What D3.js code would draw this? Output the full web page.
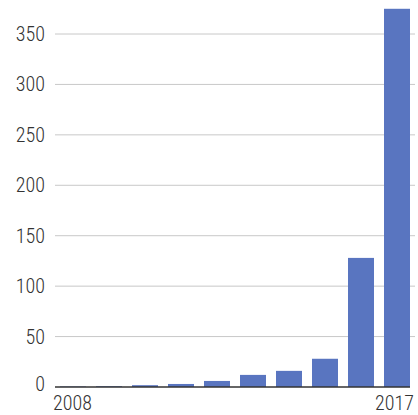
<!DOCTYPE html>
<html>
<head>
  <style type="text/css">
    body { margin: 0; background: #fff; }
    text { font-family: "Roboto Condensed", "Liberation Sans Narrow", "Roboto", sans-serif; font-stretch: condensed; font-weight: 300; fill: #333; }
  </style>
</head>
<body>
  <div id="chart"></div>
  <script src="https://cdn.jsdelivr.net/npm/d3@7"></script>
  <script type="text/javascript">
    var years = ["2008", "2009", "2010", "2011", "2012", "2013", "2014", "2015", "2016", "2017"];
    var counts = [0.5, 0.8, 1.8, 3, 6, 12, 16, 28, 128, 375];
    var yTicks = [0, 50, 100, 150, 200, 250, 300, 350];
    var xLabels = ["2008", "2017"];

    var w = 418, h = 415;
    var mLeft = 55, mRight = 415, mBase = 387, mTop = 34;

    var svg = d3.select("#chart").append("svg")
      .attr("width", w)
      .attr("height", h);

    var x = d3.scaleBand()
      .domain(years)
      .range([mLeft, mRight])
      .paddingInner(10 / 36)
      .paddingOuter(5 / 36);

    var y = d3.scaleLinear()
      .domain([0, 350])
      .range([mBase, mTop]);

    // grid
    svg.selectAll("line.grid")
      .data(yTicks.filter(function (d) { return d > 0; }))
      .enter().append("line")
      .attr("class", "grid")
      .attr("x1", mLeft).attr("x2", mRight)
      .attr("y1", function (d) { return y(d); })
      .attr("y2", function (d) { return y(d); })
      .attr("stroke", "#c8c8c8")
      .attr("stroke-width", 1);

    svg.selectAll("text.ytick")
      .data(yTicks)
      .enter().append("text")
      .attr("class", "ytick")
      .attr("x", 45)
      .attr("y", function (d) { return d === 0 ? y(d) - 3 : y(d); })
      .attr("dy", "0.35em")
      .attr("text-anchor", "end")
      .style("font-size", "20px")
      .text(function (d) { return d; });

    svg.selectAll("rect")
      .data(counts)
      .enter().append("rect")
      .attr("x", function (d, i) { return x(years[i]); })
      .attr("width", x.bandwidth())
      .attr("y", function (d) { return y(d); })
      .attr("height", function (d) { return mBase - y(d); })
      .attr("fill", "#5975c0");

    svg.append("line")
      .attr("x1", mLeft).attr("x2", x(years[9]) + x.bandwidth())
      .attr("y1", mBase).attr("y2", mBase)
      .attr("stroke", "#333")
      .attr("stroke-width", 1.5);

    svg.selectAll("text.xtick")
      .data(xLabels)
      .enter().append("text")
      .attr("class", "xtick")
      .attr("x", function (d, i) { return i === 0 ? 53 : 414; })
      .attr("y", 410)
      .attr("text-anchor", function (d, i) { return i === 0 ? "start" : "end"; })
      .style("font-size", "20px")
      .text(function (d) { return d; });
  </script>
</body>
</html>
